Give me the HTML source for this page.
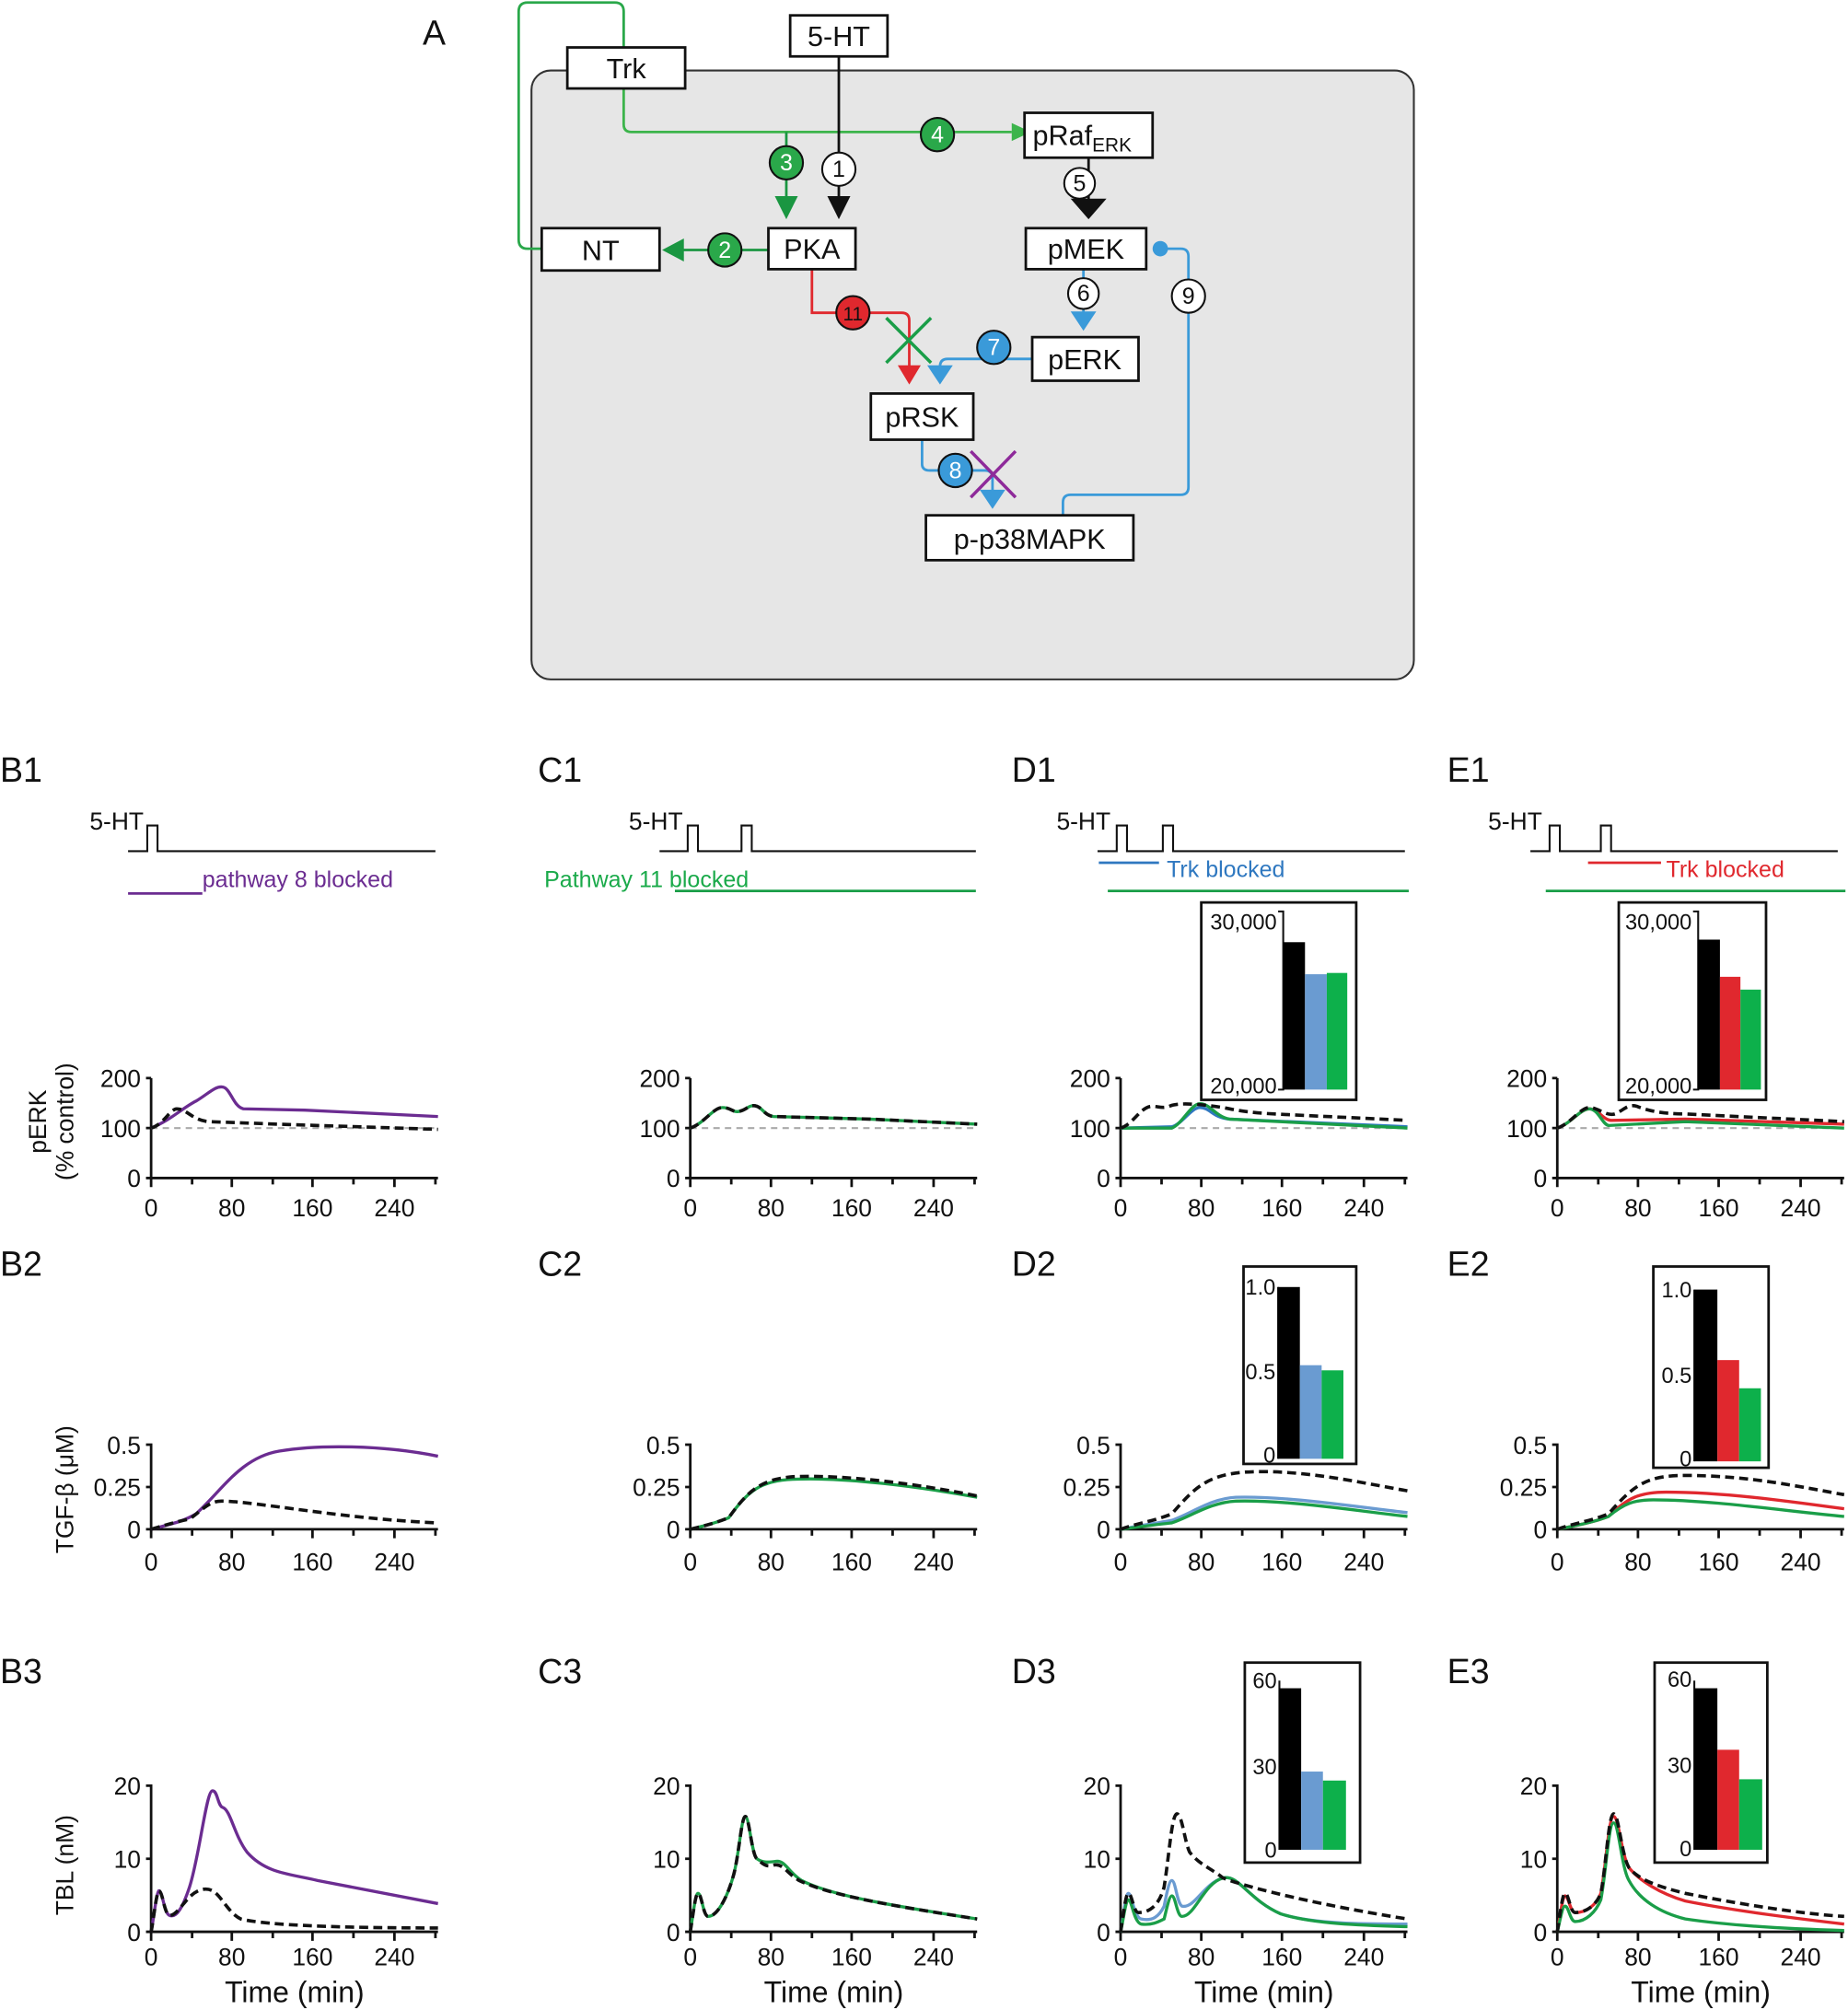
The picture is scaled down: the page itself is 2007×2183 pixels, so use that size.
<!DOCTYPE html>
<html><head><meta charset="utf-8"><style>
html,body{margin:0;padding:0;background:#fff}
svg{display:block}
text{font-family:"Liberation Sans Narrow","Liberation Sans",sans-serif;fill:#111}
.t{font-size:19px}
.s{font-size:17px}
.lab{font-size:27px;font-family:"Liberation Sans",sans-serif}
.bx{fill:#fff;stroke:#111;stroke-width:2}
.bt{font-size:22px;font-family:"Liberation Sans",sans-serif;text-anchor:middle}
.ax{fill:none;stroke:#111;stroke-width:2}
.c{fill:none;stroke-width:2.4}
.d{fill:none;stroke:#111;stroke-width:2.6;stroke-dasharray:7 4}
</style></head><body>
<svg width="2007" height="2183" viewBox="0 0 1443 1568" preserveAspectRatio="none" xmlns="http://www.w3.org/2000/svg">
<defs>
<g id="ax1">
<path class="ax" d="M0,-78 L-4,-78 M0,-78 L0,0 L224,0 M-4,-39 L0,-39 M-4,0 L0,0 M0,0 L0,7 M32,0 L32,5 M63,0 L63,7 M95,0 L95,5 M126,0 L126,7 M158,0 L158,5 M190,0 L190,7 M222,0 L222,5"/>
<path d="M0,-39 L224,-39" stroke="#aaa" stroke-width="1.5" stroke-dasharray="5 4"/>
<g class="t" text-anchor="end"><text x="-8" y="-71">200</text><text x="-8" y="-32">100</text><text x="-8" y="7">0</text></g>
<g class="t" text-anchor="middle"><text x="0" y="30">0</text><text x="63" y="30">80</text><text x="126" y="30">160</text><text x="190" y="30">240</text></g>
</g>
<g id="ax2">
<path class="ax" d="M-4,-66 L0,-66 L0,0 L224,0 M-4,-33 L0,-33 M-4,0 L0,0 M0,0 L0,7 M32,0 L32,5 M63,0 L63,7 M95,0 L95,5 M126,0 L126,7 M158,0 L158,5 M190,0 L190,7 M222,0 L222,5"/>
<g class="t" text-anchor="end"><text x="-8" y="-59">0.5</text><text x="-8" y="-26">0.25</text><text x="-8" y="7">0</text></g>
<g class="t" text-anchor="middle"><text x="0" y="32">0</text><text x="63" y="32">80</text><text x="126" y="32">160</text><text x="190" y="32">240</text></g>
</g>
<g id="ax3">
<path class="ax" d="M-4,-114 L0,-114 L0,0 L224,0 M-4,-57 L0,-57 M-4,0 L0,0 M0,0 L0,7 M32,0 L32,5 M63,0 L63,7 M95,0 L95,5 M126,0 L126,7 M158,0 L158,5 M190,0 L190,7 M222,0 L222,5"/>
<g class="t" text-anchor="end"><text x="-8" y="-107">20</text><text x="-8" y="-50">10</text><text x="-8" y="7">0</text></g>
<g class="t" text-anchor="middle"><text x="0" y="26">0</text><text x="63" y="26">80</text><text x="126" y="26">160</text><text x="190" y="26">240</text></g>
<text x="112" y="55" text-anchor="middle" style="font-size:23px;font-family:Liberation Sans,sans-serif">Time (min)</text>
</g>
</defs>
<!-- Panel A -->
<text class="lab" x="330" y="35">A</text>
<rect x="415" y="55" width="689" height="475" rx="15" fill="#e6e6e6" stroke="#333" stroke-width="1.5"/>
<path d="M423,194 L412,194 Q405,194 405,187 L405,9 Q405,2 412,2 L480,2 Q487,2 487,9 L487,37" fill="none" stroke="#2aa84a" stroke-width="2"/>
<path d="M487,69 L487,97 Q487,103 493,103 L790,103" fill="none" stroke="#3cb44b" stroke-width="2"/>
<path d="M790,96 L805,103 L790,110z" fill="#3cb44b"/>
<path d="M614,103 L614,155" stroke="#1a9641" stroke-width="2"/>
<path d="M605,153 L614,171 L623,153z" fill="#1a9641"/>
<path d="M655,44 L655,155" stroke="#111" stroke-width="2"/>
<path d="M646,153 L655,171 L664,153z" fill="#111"/>
<path d="M600,195 L532,195" stroke="#1a9641" stroke-width="2"/>
<path d="M534,186 L517,195 L534,204z" fill="#1a9641"/>
<path d="M850,123 L850,158" stroke="#111" stroke-width="2"/>
<path d="M836,155 L850,171 L864,155z" fill="#111"/>
<path d="M846,210 L846,245" stroke="#3a9ad9" stroke-width="2"/>
<path d="M836,243 L846,258 L856,243z" fill="#3a9ad9"/>
<path d="M806,280 L740,280 Q734,280 734,286 L734,287" fill="none" stroke="#3a9ad9" stroke-width="2"/>
<path d="M724,285 L734,300 L744,285z" fill="#3a9ad9"/>
<path d="M634,210 L634,244 L704,244 Q710,244 710,250 L710,287" fill="none" stroke="#e0282e" stroke-width="2"/>
<path d="M701,285 L710,300 L719,285z" fill="#e0282e"/>
<path d="M692,248 L727,283 M727,248 L692,283" stroke="#1a9e48" stroke-width="2.5"/>
<path d="M720,343 L720,362 Q720,367 726,367 L769,367 Q775,367 775,373 L775,384" fill="none" stroke="#3a9ad9" stroke-width="2"/>
<path d="M765,382 L775,397 L785,382z" fill="#3a9ad9"/>
<path d="M758,352 L793,388 M793,352 L758,388" stroke="#8e2a9a" stroke-width="2.5"/>
<path d="M830,402 L830,392 Q830,386 836,386 L922,386 Q928,386 928,380 L928,200 Q928,194 922,194 L907,194" fill="none" stroke="#3a9ad9" stroke-width="2"/>
<circle cx="906" cy="194" r="6" fill="#3a9ad9"/>
<rect class="bx" x="443" y="37" width="92" height="32"/><text class="bt" x="489" y="61">Trk</text>
<rect class="bx" x="617" y="12" width="76" height="32"/><text class="bt" x="655" y="36">5-HT</text>
<rect class="bx" x="800" y="88" width="100" height="35"/><text class="bt" x="845" y="113">pRaf<tspan font-size="15" dy="5">ERK</tspan></text>
<rect class="bx" x="801" y="178" width="94" height="32"/><text class="bt" x="848" y="202">pMEK</text>
<rect class="bx" x="423" y="178" width="92" height="33"/><text class="bt" x="469" y="203">NT</text>
<rect class="bx" x="600" y="178" width="68" height="32"/><text class="bt" x="634" y="202">PKA</text>
<rect class="bx" x="806" y="263" width="83" height="34"/><text class="bt" x="847" y="288">pERK</text>
<rect class="bx" x="680" y="307" width="80" height="36"/><text class="bt" x="720" y="333">pRSK</text>
<rect class="bx" x="723" y="402" width="162" height="35"/><text class="bt" x="804" y="428">p-p38MAPK</text>
<g font-family="Liberation Sans,sans-serif" font-size="18" text-anchor="middle">
<circle cx="614" cy="127" r="13" fill="#2aa84a" stroke="#111" stroke-width="1.5"/><text x="614" y="133" style="fill:#fff">3</text>
<circle cx="732" cy="105" r="13" fill="#2aa84a" stroke="#111" stroke-width="1.5"/><text x="732" y="111" style="fill:#fff">4</text>
<circle cx="655" cy="132" r="13" fill="#fff" stroke="#111" stroke-width="1.5"/><text x="655" y="138">1</text>
<circle cx="566" cy="195" r="13" fill="#2aa84a" stroke="#111" stroke-width="1.5"/><text x="566" y="201" style="fill:#fff">2</text>
<circle cx="843" cy="143" r="12" fill="#fff" stroke="#111" stroke-width="1.5"/><text x="843" y="149">5</text>
<circle cx="846" cy="229" r="12" fill="#fff" stroke="#111" stroke-width="1.5"/><text x="846" y="235">6</text>
<circle cx="776" cy="271" r="13" fill="#3a9ad9" stroke="#111" stroke-width="1.5"/><text x="776" y="277" style="fill:#fff">7</text>
<circle cx="666" cy="244" r="13" fill="#e0282e" stroke="#111" stroke-width="1.5"/><text x="666" y="250" font-size="15">11</text>
<circle cx="746" cy="367" r="13" fill="#3a9ad9" stroke="#111" stroke-width="1.5"/><text x="746" y="373" style="fill:#fff">8</text>
<circle cx="928" cy="231" r="13" fill="#fff" stroke="#111" stroke-width="1.5"/><text x="928" y="237">9</text>
</g>

<text class="lab" x="0" y="610">B1</text><text class="lab" x="420" y="610">C1</text><text class="lab" x="790" y="610">D1</text><text class="lab" x="1130" y="610">E1</text>
<text class="lab" x="0" y="995">B2</text><text class="lab" x="420" y="995">C2</text><text class="lab" x="790" y="995">D2</text><text class="lab" x="1130" y="995">E2</text>
<text class="lab" x="0" y="1313">B3</text><text class="lab" x="420" y="1313">C3</text><text class="lab" x="790" y="1313">D3</text><text class="lab" x="1130" y="1313">E3</text>

<g fill="none" stroke="#111" stroke-width="1.5">
<path d="M100,664 L115,664 L115,644 L123,644 L123,664 L340,664"/>
<path d="M515,664 L537,664 L537,644 L545,644 L545,664 L579,664 L579,644 L587,644 L587,664 L762,664"/>
<path d="M857,664 L872,664 L872,644 L880,644 L880,664 L908,664 L908,644 L916,644 L916,664 L1097,664"/>
<path d="M1195,664 L1210,664 L1210,644 L1218,644 L1218,664 L1250,664 L1250,644 L1258,644 L1258,664 L1435,664"/>
</g>
<g class="t">
<text x="70" y="647">5-HT</text><text x="491" y="647">5-HT</text><text x="825" y="647">5-HT</text><text x="1162" y="647">5-HT</text>
<text x="158" y="692" style="fill:#6b2c91;font-family:Liberation Sans,sans-serif;font-size:18px">pathway 8 blocked</text>
<text x="425" y="692" style="fill:#1aaa4a;font-family:Liberation Sans,sans-serif;font-size:18px">Pathway 11 blocked</text>
<text x="911" y="684" style="fill:#2f78c0;font-family:Liberation Sans,sans-serif;font-size:18px">Trk blocked</text>
<text x="1301" y="684" style="fill:#e0282e;font-family:Liberation Sans,sans-serif;font-size:18px">Trk blocked</text>
</g>
<path d="M100,697 L158,697" stroke="#6b2c91" stroke-width="2"/>
<path d="M527,695 L762,695" stroke="#1a9e48" stroke-width="2"/>
<path d="M858,673 L905,673" stroke="#2f78c0" stroke-width="2"/>
<path d="M865,695 L1100,695" stroke="#1a9e48" stroke-width="2"/>
<path d="M1240,673 L1297,673" stroke="#e0282e" stroke-width="2"/>
<path d="M1207,695 L1441,695" stroke="#1a9e48" stroke-width="2"/>

<text class="t" transform="translate(36,875) rotate(-90)" text-anchor="middle">pERK</text>
<text class="t" transform="translate(57,875) rotate(-90)" text-anchor="middle">(% control)</text>
<text class="t" transform="translate(57,1162) rotate(-90)" text-anchor="middle">TGF-β (μM)</text>
<text class="t" transform="translate(57,1455) rotate(-90)" text-anchor="middle">TBL (nM)</text>

<!-- Row 1 -->
<g transform="translate(118,919)">
<use href="#ax1"/>
<path class="c" stroke="#6b2c91" d="M0,-39 C15,-45 25,-55 35,-60 C45,-66 50,-72 56,-71 C62,-70 64,-56 72,-54 L120,-53 L224,-48"/>
<path class="d" d="M0,-39 C10,-42 15,-54 20,-54 C28,-54 32,-45 45,-44 L100,-42 L224,-38"/>
</g>
<g transform="translate(539,919)">
<use href="#ax1"/>
<path class="c" stroke="#1a9e48" d="M0,-39 C10,-42 18,-55 25,-55 C32,-55 33,-51 38,-52 C44,-53 46,-58 52,-56 C57,-54 58,-49 65,-48 L140,-46 L224,-42"/>
<path class="d" d="M0,-39 C10,-42 18,-55 25,-55 C32,-55 33,-51 38,-52 C44,-53 46,-58 52,-56 C57,-54 58,-49 65,-48 L140,-46 L224,-42"/>
</g>
<g transform="translate(875,919)">
<use href="#ax1"/>
<path class="c" stroke="#2f78c0" d="M0,-39 L40,-40 C48,-42 55,-55 62,-55 C70,-55 72,-47 85,-46 L224,-40"/>
<path class="c" stroke="#1a9e48" d="M0,-39 L40,-39 C48,-42 55,-58 62,-58 C70,-58 74,-48 85,-46 L224,-39"/>
<path class="d" d="M0,-39 C10,-42 15,-55 24,-56 C30,-56 32,-54 38,-56 C45,-59 60,-58 80,-55 C90,-53 100,-51 120,-50 L224,-45"/>
</g>
<g transform="translate(1216,919)">
<use href="#ax1"/>
<path class="c" stroke="#e0282e" d="M0,-39 C10,-42 18,-54 25,-54 C32,-54 36,-45 42,-45 L100,-46 L224,-42"/>
<path class="c" stroke="#1a9e48" d="M0,-39 C10,-42 18,-54 25,-54 C32,-54 35,-42 40,-41 L100,-44 L224,-39"/>
<path class="d" d="M0,-39 C10,-42 18,-55 25,-55 C32,-55 38,-48 45,-50 C52,-53 55,-58 62,-56 C70,-53 80,-50 100,-50 L224,-44"/>
</g>

<!-- Row 2 -->
<g transform="translate(118,1193)">
<use href="#ax2"/>
<path class="c" stroke="#6b2c91" d="M0,0 C15,-4 25,-6 35,-12 C55,-30 70,-56 100,-61 C130,-66 180,-66 224,-57"/>
<path class="d" d="M0,0 C10,-3 20,-6 30,-8 C40,-15 45,-22 55,-22 C80,-22 150,-8 224,-5"/>
</g>
<g transform="translate(539,1193)">
<use href="#ax2"/>
<path class="c" stroke="#1a9e48" d="M0,0 C12,-3 20,-5 30,-9 C45,-30 55,-38 80,-39 C120,-41 180,-33 224,-25"/>
<path class="d" d="M0,0 C12,-3 20,-5 30,-9 C45,-30 55,-39 80,-41 C120,-43 180,-35 224,-26"/>
</g>
<g transform="translate(875,1193)">
<use href="#ax2"/>
<path class="c" stroke="#6a9bd1" d="M0,0 C15,-3 30,-5 40,-7 C55,-12 70,-24 90,-25 C130,-26 180,-18 224,-13"/>
<path class="c" stroke="#1a9e48" d="M0,0 C15,-2 30,-4 40,-5 C55,-10 70,-21 90,-22 C130,-23 180,-15 224,-10"/>
<path class="d" d="M0,0 C10,-4 25,-6 40,-12 C60,-35 70,-45 110,-45 C150,-45 190,-36 224,-30"/>
</g>
<g transform="translate(1216,1193)">
<use href="#ax2"/>
<path class="c" stroke="#e0282e" d="M0,0 C15,-3 30,-6 40,-10 C55,-25 65,-29 85,-29 C130,-29 180,-22 224,-16"/>
<path class="c" stroke="#1a9e48" d="M0,0 C15,-3 30,-6 40,-10 C52,-20 60,-23 75,-23 C120,-23 180,-14 224,-10"/>
<path class="d" d="M0,0 C10,-4 25,-6 40,-12 C60,-35 70,-42 100,-42 C150,-42 190,-33 224,-27"/>
</g>

<!-- Row 3 -->
<g transform="translate(118,1507)">
<use href="#ax3"/>
<path class="c" stroke="#6b2c91" d="M0,0 C2,-10 4,-30 6,-32 C9,-32 10,-15 14,-13 C20,-10 25,-20 30,-35 C38,-60 43,-110 48,-110 C52,-110 52,-98 56,-97 C62,-95 65,-75 75,-62 C90,-45 110,-45 130,-40 L224,-22"/>
<path class="d" d="M0,0 C2,-10 4,-30 6,-32 C9,-32 10,-15 14,-13 C18,-12 22,-18 28,-25 C35,-33 42,-35 48,-32 C55,-28 60,-15 70,-10 C90,-5 150,-3 224,-3"/>
</g>
<g transform="translate(539,1507)">
<use href="#ax3"/>
<path class="c" stroke="#1a9e48" d="M0,0 C2,-12 4,-30 6,-30 C9,-30 10,-12 14,-12 C22,-12 30,-30 34,-45 C38,-60 40,-90 43,-90 C46,-90 48,-60 52,-57 C56,-54 60,-54 67,-55 C74,-56 77,-46 87,-40 C110,-28 160,-20 224,-10"/>
<path class="d" d="M0,0 C2,-12 4,-30 6,-30 C9,-30 10,-12 14,-12 C22,-12 30,-30 34,-45 C38,-60 40,-90 43,-90 C46,-90 48,-60 52,-57 C56,-54 58,-50 65,-52 C72,-54 75,-46 85,-40 C110,-28 160,-20 224,-10"/>
</g>
<g transform="translate(875,1507)">
<use href="#ax3"/>
<path class="c" stroke="#6a9bd1" d="M0,0 C2,-10 4,-30 6,-30 C9,-30 10,-12 16,-10 C25,-8 30,-12 34,-20 C36,-30 38,-40 40,-40 C43,-40 44,-22 48,-20 C58,-18 65,-38 80,-42 C92,-45 100,-25 125,-14 C150,-6 190,-6 224,-6"/>
<path class="c" stroke="#1a9e48" d="M0,0 C2,-8 4,-25 6,-25 C9,-25 10,-8 16,-6 C25,-5 30,-8 34,-10 C36,-18 38,-28 40,-28 C43,-28 44,-12 48,-12 C58,-12 65,-38 80,-42 C92,-45 100,-25 125,-14 C150,-6 190,-5 224,-4"/>
<path class="d" d="M0,0 C2,-12 4,-30 6,-30 C9,-30 10,-15 14,-15 C22,-15 30,-20 34,-35 C38,-60 40,-92 44,-92 C48,-92 50,-70 54,-62 C62,-52 70,-50 80,-42 C100,-34 160,-20 224,-10"/>
</g>
<g transform="translate(1216,1507)">
<use href="#ax3"/>
<path class="c" stroke="#e0282e" d="M0,0 C2,-10 4,-28 6,-28 C9,-28 10,-15 14,-15 C22,-15 30,-20 34,-30 C38,-50 40,-90 44,-90 C48,-90 50,-60 56,-50 C64,-40 80,-30 100,-24 C140,-16 190,-10 224,-6"/>
<path class="c" stroke="#1a9e48" d="M0,0 C2,-8 4,-20 6,-20 C9,-20 10,-8 14,-8 C22,-8 30,-15 34,-25 C38,-45 40,-85 44,-85 C48,-85 50,-50 56,-40 C64,-25 80,-15 100,-10 C140,-4 190,-2 224,-1"/>
<path class="d" d="M0,0 C2,-12 4,-30 6,-30 C9,-30 10,-15 14,-15 C22,-15 30,-20 34,-30 C38,-50 40,-92 44,-92 C48,-92 50,-60 56,-50 C64,-40 80,-35 100,-30 C140,-22 190,-14 224,-12"/>
</g>

<!-- Insets -->
<g class="s">
<rect x="938" y="704" width="121" height="154" fill="#fff" stroke="#111" stroke-width="2"/>
<path d="M998,711 L1002,711 L1002,850 L998,850" fill="none" stroke="#111" stroke-width="1.5"/>
<rect x="1002" y="735" width="17" height="115" fill="#000"/><rect x="1019" y="760" width="17" height="90" fill="#6a9bd1"/><rect x="1036" y="759" width="16" height="91" fill="#0db04b"/>
<text x="997" y="725" text-anchor="end">30,000</text><text x="997" y="853" text-anchor="end">20,000</text>

<rect x="1264" y="704" width="115" height="154" fill="#fff" stroke="#111" stroke-width="2"/>
<path d="M1322,711 L1326,711 L1326,850 L1322,850" fill="none" stroke="#111" stroke-width="1.5"/>
<rect x="1326" y="733" width="17" height="117" fill="#000"/><rect x="1343" y="762" width="16" height="88" fill="#e0282e"/><rect x="1359" y="772" width="16" height="78" fill="#0db04b"/>
<text x="1321" y="725" text-anchor="end">30,000</text><text x="1321" y="853" text-anchor="end">20,000</text>

<rect x="971" y="988" width="88" height="154" fill="#fff" stroke="#111" stroke-width="2"/>
<path d="M998,1004 L998,1138" stroke="#111" stroke-width="1.5"/>
<rect x="998" y="1004" width="17" height="134" fill="#000"/><rect x="1015" y="1065" width="17" height="73" fill="#6a9bd1"/><rect x="1032" y="1069" width="17" height="69" fill="#0db04b"/>
<text x="996" y="1010" text-anchor="end">1.0</text><text x="996" y="1076" text-anchor="end">0.5</text><text x="996" y="1141" text-anchor="end">0</text>

<rect x="1291" y="988" width="90" height="157" fill="#fff" stroke="#111" stroke-width="2"/>
<path d="M1323,1006 L1323,1140" stroke="#111" stroke-width="1.5"/>
<rect x="1323" y="1006" width="18" height="134" fill="#000"/><rect x="1341" y="1061" width="17" height="79" fill="#e0282e"/><rect x="1358" y="1083" width="17" height="57" fill="#0db04b"/>
<text x="1321" y="1012" text-anchor="end">1.0</text><text x="1321" y="1079" text-anchor="end">0.5</text><text x="1321" y="1144" text-anchor="end">0</text>

<rect x="972" y="1297" width="90" height="156" fill="#fff" stroke="#111" stroke-width="2"/>
<path d="M999,1311 L999,1443" stroke="#111" stroke-width="1.5"/>
<rect x="999" y="1317" width="17" height="126" fill="#000"/><rect x="1016" y="1382" width="17" height="61" fill="#6a9bd1"/><rect x="1033" y="1389" width="18" height="54" fill="#0db04b"/>
<text x="997" y="1317" text-anchor="end">60</text><text x="997" y="1384" text-anchor="end">30</text><text x="997" y="1449" text-anchor="end">0</text>

<rect x="1292" y="1297" width="88" height="156" fill="#fff" stroke="#111" stroke-width="2"/>
<path d="M1323,1311 L1323,1443" stroke="#111" stroke-width="1.5"/>
<rect x="1323" y="1317" width="18" height="126" fill="#000"/><rect x="1341" y="1365" width="17" height="78" fill="#e0282e"/><rect x="1358" y="1388" width="18" height="55" fill="#0db04b"/>
<text x="1321" y="1316" text-anchor="end">60</text><text x="1321" y="1383" text-anchor="end">30</text><text x="1321" y="1448" text-anchor="end">0</text>
</g>
</svg>
</body></html>
